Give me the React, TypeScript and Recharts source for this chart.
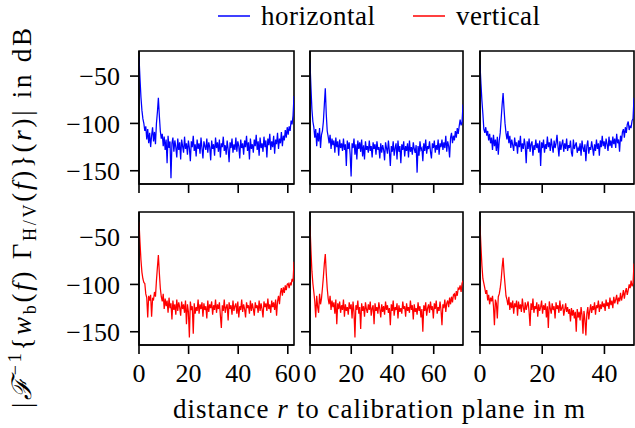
import React from "react";
import { LineChart, Line, XAxis, YAxis, ReferenceArea } from "recharts";

// distance range of each column (m)
const spans = [62.5, 74.2, 49.5];
const xTicks = [
  [0, 20, 40, 60],
  [0, 20, 40, 60],
  [0, 20, 40],
];
const yTicks = [-150, -100, -50];
const yDomain = [-164, -23.5];

// magnitudes in dB, evenly spaced over each column's range
const horizontalA = [
  -30, -52, -72, -86, -95, -100, -108, -103, -117, -106,
  -121, -110, -125, -113, -104, -119, -109, -122, -100, -88,
  -73, -92, -108, -116, -111, -124, -114, -128, -117, -142,
  -113, -126, -119, -158, -121, -115, -130, -118, -125, -136,
  -116, -128, -120, -138, -117, -124, -131, -114, -127, -121,
  -133, -118, -126, -140, -119, -125, -113, -129, -122, -135,
  -117, -127, -121, -132, -115, -126, -137, -119, -124, -128,
  -116, -131, -120, -125, -139, -118, -127, -122, -134, -115,
  -126, -120, -130, -117, -136, -121, -125, -114, -129, -123,
  -133, -118, -127, -141, -120, -126, -116, -131, -122, -128,
  -115, -130, -119, -124, -137, -117, -126, -121, -133, -118,
  -125, -113, -129, -120, -138, -116, -127, -122, -131, -117,
  -124, -112, -128, -119, -134, -115, -126, -121, -130, -114,
  -125, -118, -136, -116, -123, -111, -128, -119, -125, -113,
  -132, -117, -122, -110, -127, -116, -121, -109, -124, -113,
  -118, -107, -115, -104, -112, -103, -108, -97, -101, -92,
  -71,
];
const horizontalB = [
  -36, -62, -85, -98, -104, -115, -106, -124, -110, -119,
  -105, -126, -112, -108, -98, -80, -63, -90, -108, -114,
  -121, -112, -127, -116, -123, -118, -131, -115, -125, -119,
  -134, -117, -126, -121, -129, -116, -128, -122, -145, -118,
  -127, -120, -133, -156, -121, -126, -116, -133, -122, -138,
  -118, -127, -120, -130, -117, -135, -123, -138, -119, -128,
  -124, -131, -118, -129, -124, -136, -120, -127, -122, -133,
  -119, -128, -125, -137, -121, -131, -123, -128, -139, -120,
  -126, -132, -118, -129, -145, -124, -130, -119, -134, -126,
  -121, -138, -118, -130, -124, -142, -122, -128, -119, -135,
  -124, -129, -121, -136, -118, -130, -125, -133, -120, -127,
  -131, -123, -152, -124, -134, -119, -128, -126, -140, -121,
  -129, -117, -132, -124, -127, -119, -130, -137, -121, -126,
  -118, -131, -123, -128, -117, -133, -121, -125, -117, -128,
  -120, -126, -113, -130, -119, -124, -136, -115, -110, -121,
  -113, -118, -108, -115, -105, -111, -103, -96, -102, -99,
  -80,
];
const horizontalC = [
  -38, -58, -76, -90, -106, -110, -104, -113, -108, -118,
  -111, -121, -115, -128, -112, -124, -117, -129, -114, -133,
  -118, -110, -95, -80, -68, -85, -100, -110, -117, -108,
  -121, -113, -126, -117, -123, -129, -115, -124, -120, -132,
  -118, -125, -113, -130, -121, -127, -116, -124, -142, -119,
  -127, -116, -130, -122, -119, -134, -123, -128, -117, -126,
  -121, -131, -118, -145, -120, -126, -117, -131, -122, -127,
  -114, -125, -120, -129, -116, -124, -131, -118, -126, -121,
  -112, -124, -135, -119, -128, -122, -117, -130, -121, -127,
  -116, -129, -123, -126, -118, -131, -135, -117, -127, -123,
  -120, -131, -126, -129, -121, -134, -118, -126, -130, -122,
  -140, -124, -118, -132, -125, -128, -119, -126, -134, -122,
  -129, -117, -127, -121, -134, -118, -125, -113, -124, -119,
  -127, -116, -122, -129, -114, -124, -118, -126, -114, -122,
  -116, -126, -111, -121, -117, -130, -113, -119, -109, -106,
  -115, -104, -110, -101, -98, -107, -103, -104, -97, -95,
  -73,
];
const verticalA = [
  -34, -55, -74, -87, -94, -98, -99, -110, -114, -135,
  -112, -117, -111, -134, -115, -116, -108, -113, -96, -82,
  -69, -88, -104, -113, -118, -110, -126, -115, -123, -117,
  -130, -114, -125, -120, -137, -117, -127, -121, -132, -116,
  -128, -119, -124, -133, -118, -126, -121, -130, -117, -142,
  -121, -129, -156, -118, -127, -123, -152, -120, -131, -124,
  -128, -116, -131, -121, -126, -119, -134, -120, -127, -123,
  -136, -117, -129, -121, -125, -118, -132, -122, -127, -116,
  -130, -121, -126, -119, -133, -146, -122, -128, -116, -130,
  -124, -121, -138, -119, -126, -122, -132, -117, -128, -123,
  -120, -131, -118, -135, -123, -127, -116, -129, -121, -126,
  -135, -119, -125, -122, -131, -117, -128, -120, -126, -133,
  -119, -125, -122, -130, -117, -128, -120, -126, -135, -118,
  -124, -120, -128, -115, -126, -121, -130, -117, -124, -119,
  -127, -116, -133, -118, -112, -121, -109, -104, -112, -103,
  -109, -101, -106, -100, -99, -104, -98, -101, -94, -97,
  -76,
];
const verticalB = [
  -38, -64, -86, -99, -108, -118, -135, -112, -124, -130,
  -110, -121, -115, -104, -92, -78, -68, -88, -104, -115,
  -121, -112, -127, -117, -124, -119, -131, -116, -142, -120,
  -126, -118, -130, -122, -127, -116, -134, -121, -128, -124,
  -132, -119, -126, -121, -136, -118, -129, -156, -122, -127,
  -117, -131, -124, -147, -120, -128, -123, -134, -119, -126,
  -130, -121, -127, -118, -133, -125, -122, -142, -120, -128,
  -124, -131, -119, -126, -135, -121, -129, -123, -132, -118,
  -127, -122, -130, -125, -143, -121, -128, -117, -133, -124,
  -127, -120, -136, -122, -129, -125, -131, -118, -126, -123,
  -134, -120, -128, -124, -130, -117, -127, -122, -137, -121,
  -129, -125, -132, -119, -128, -123, -135, -126, -150, -122,
  -128, -119, -133, -125, -121, -130, -118, -127, -123, -136,
  -120, -126, -117, -131, -124, -128, -118, -127, -143, -121,
  -125, -116, -129, -120, -117, -124, -114, -121, -113, -119,
  -111, -110, -116, -107, -112, -104, -105, -101, -108, -99,
  -96,
];
const verticalC = [
  -38, -60, -80, -94, -99, -104, -110, -106, -117, -111,
  -121, -114, -118, -112, -123, -143, -116, -120, -136, -113,
  -110, -104, -95, -82, -72, -88, -100, -112, -116, -122,
  -113, -127, -119, -125, -117, -131, -120, -124, -117, -133,
  -118, -126, -121, -129, -115, -124, -130, -119, -127, -122,
  -118, -129, -144, -120, -127, -115, -130, -123, -126, -119,
  -134, -121, -128, -124, -117, -131, -122, -127, -120, -135,
  -123, -146, -118, -125, -131, -120, -127, -123, -136, -119,
  -126, -122, -130, -117, -128, -125, -121, -133, -127, -120,
  -129, -124, -131, -126, -139, -125, -133, -127, -136, -129,
  -150, -126, -135, -129, -138, -124, -132, -152, -128, -137,
  -154, -131, -124, -137, -128, -121, -130, -123, -127, -119,
  -132, -122, -125, -117, -129, -121, -126, -118, -124, -120,
  -128, -116, -123, -119, -126, -114, -122, -117, -125, -113,
  -120, -116, -111, -121, -114, -118, -109, -117, -112, -106,
  -115, -108, -104, -111, -106, -100, -104, -96, -102, -99,
  -78,
];

const plotLeft = [139, 310, 480];
const plotWidth = [155, 153, 154];
const plotTop = [51, 212];
const plotH = 133;

const FONT = "Liberation Serif";
const tickStyle = { fontFamily: FONT, fontSize: 26, fill: "#000" };
const fmt = (v: number) => (v < 0 ? "\u2212" + Math.abs(v) : String(v));
const blank = () => "";

function toRows(vals: number[], span: number) {
  const step = span / (vals.length - 1);
  return vals.map((v, i) => ({ r: i * step, v }));
}

function Panel({ vals, col, row, color }: { vals: number[]; col: number; row: number; color: string }) {
  const padL = 80, padT = 6, padR = 6, padB = 45;
  const span = spans[col];
  const w = plotWidth[col];
  return (
    <div style={{ position: "absolute", left: plotLeft[col] - padL, top: plotTop[row] - padT }}>
      <LineChart
        width={padL + w + padR}
        height={padT + plotH + padB}
        data={toRows(vals, span)}
        margin={{ top: padT, right: padR, left: 0, bottom: 0 }}
      >
        <XAxis
          dataKey="r"
          type="number"
          domain={[0, span]}
          ticks={xTicks[col]}
          interval={0}
          allowDataOverflow
          height={padB}
          tickSize={9}
          tickMargin={10}
          axisLine={{ stroke: "#000", strokeWidth: 1.6 }}
          tickLine={{ stroke: "#000", strokeWidth: 1.6 }}
          tick={tickStyle}
          tickFormatter={row === 1 ? fmt : blank}
        />
        <YAxis
          type="number"
          domain={yDomain}
          ticks={yTicks}
          interval={0}
          allowDataOverflow
          width={padL}
          tickSize={9}
          tickMargin={10}
          axisLine={{ stroke: "#000", strokeWidth: 1.6 }}
          tickLine={{ stroke: "#000", strokeWidth: 1.6 }}
          tick={tickStyle}
          tickFormatter={col === 0 ? fmt : blank}
        />
        <Line
          dataKey="v"
          type="linear"
          stroke={color}
          strokeWidth={1.25}
          dot={false}
          isAnimationActive={false}
        />
        <ReferenceArea
          x1={0}
          x2={span}
          y1={yDomain[0]}
          y2={yDomain[1]}
          fill="none"
          stroke="#000"
          strokeWidth={1.6}
        />
      </LineChart>
    </div>
  );
}

export default function App() {
  return (
    <div
      style={{
        position: "absolute",
        left: 0,
        top: 0,
        width: 635,
        height: 428,
        overflow: "hidden",
        background: "#fff",
      }}
    >
      <Panel vals={horizontalA} col={0} row={0} color="#0000ff" />
      <Panel vals={horizontalB} col={1} row={0} color="#0000ff" />
      <Panel vals={horizontalC} col={2} row={0} color="#0000ff" />
      <Panel vals={verticalA} col={0} row={1} color="#ff0000" />
      <Panel vals={verticalB} col={1} row={1} color="#ff0000" />
      <Panel vals={verticalC} col={2} row={1} color="#ff0000" />
      <svg
        width={635}
        height={428}
        style={{ position: "absolute", left: 0, top: 0, pointerEvents: "none" }}
        fontFamily={FONT}
      >
        {/* legend */}
        <line x1={218} x2={250} y1={16} y2={16} stroke="#0000ff" strokeWidth={1.5} />
        <text x={261} y={25} fontSize={27} textLength={114}>horizontal</text>
        <line x1={413} x2={445} y1={16} y2={16} stroke="#ff0000" strokeWidth={1.5} />
        <text x={456} y={25} fontSize={27} textLength={84}>vertical</text>
        {/* x label */}
        <text x={173} y={418} fontSize={27} textLength={412}>
          distance <tspan fontStyle="italic">r</tspan> to calibration plane in m
        </text>
        {/* y label */}
        <text
          transform="translate(31,218) rotate(-90)"
          textAnchor="middle"
          fontSize={27}
          textLength={380}
        >
          |<tspan fontStyle="italic">{"\u2131"}</tspan>
          <tspan dy={-10} fontSize={18}>{"\u22121"}</tspan>
          <tspan dy={10}>{"{"}</tspan>
          <tspan fontStyle="italic">w</tspan>
          <tspan dy={5} fontSize={18}>b</tspan>
          <tspan dy={-5}>(</tspan>
          <tspan fontStyle="italic">f</tspan>
          <tspan>{") \u0393"}</tspan>
          <tspan dy={5} fontSize={18}>H/V</tspan>
          <tspan dy={-5}>(</tspan>
          <tspan fontStyle="italic">f</tspan>
          <tspan>{")}("}</tspan>
          <tspan fontStyle="italic">r</tspan>
          <tspan>{")| in dB"}</tspan>
        </text>
      </svg>
    </div>
  );
}
